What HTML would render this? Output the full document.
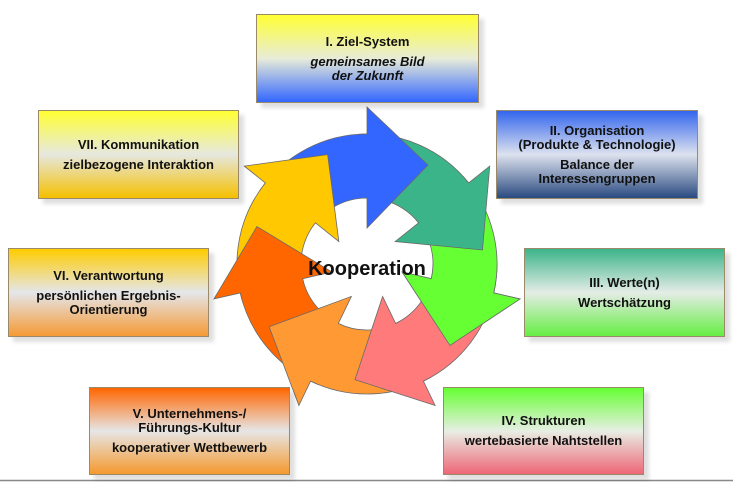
<!DOCTYPE html>
<html><head><meta charset="utf-8"><style>
html,body{margin:0;padding:0;background:#fff;}
body{width:733px;height:483px;position:relative;overflow:hidden;font-family:"Liberation Sans",Arial,sans-serif;}
.b{position:absolute;box-sizing:border-box;border:1px solid #9a8a6a;box-shadow:5px 5px 4px rgba(0,0,0,0.13);display:flex;flex-direction:column;justify-content:center;align-items:center;text-align:center;font-weight:bold;font-size:13px;line-height:14px;color:#111;}
.b .g{height:6px;}
svg{position:absolute;left:0;top:0;}
</style></head><body>
<svg width="733" height="483">
<defs>
<path id="ar" d="M260.5,189.4 A130,130 0 0 1 367,134 L367,107 L428,165 L367,228 L367,198 A66,66 0 0 0 312.9,226.1 Z" stroke="#6a6a6a" stroke-width="0.8"/>
<clipPath id="wg"><polygon points="367,264 600,264 600,300 520,440 495.6,417.2"/></clipPath>
</defs>
<use href="#ar" fill="#66ff33" transform="rotate(102.86 367 264)"/>
<use href="#ar" fill="#3cb48a" transform="rotate(51.43 367 264)"/>
<use href="#ar" fill="#3366ff"/>
<use href="#ar" fill="#ffc800" transform="rotate(-51.43 367 264)"/>
<use href="#ar" fill="#ff6600" transform="rotate(-102.86 367 264)"/>
<use href="#ar" fill="#ff9933" transform="rotate(-154.29 367 264)"/>
<use href="#ar" fill="#ff7b7b" transform="rotate(154.29 367 264)"/>
<g clip-path="url(#wg)"><use href="#ar" fill="#66ff33" transform="rotate(102.86 367 264)"/></g>
<text x="367" y="275" text-anchor="middle" font-family="Liberation Sans, Arial, sans-serif" font-weight="bold" font-size="20" fill="#111">Kooperation</text>
<line x1="0" y1="480.5" x2="733" y2="480.5" stroke="#888" stroke-width="1.5"/>
</svg>

<div class="b" style="left:256px;top:14px;width:223px;height:89px;background:linear-gradient(#ffff33,#e8ecd8 50%,#3366ff);">
<div>I. Ziel-System</div><div class="g"></div><div style="font-style:italic">gemeinsames Bild<br>der Zukunft</div></div>

<div class="b" style="left:496px;top:110px;width:202px;height:89px;background:linear-gradient(#3366ee,#dde2ee 50%,#2a4a80);">
<div>II. Organisation<br>(Produkte &amp; Technologie)</div><div class="g"></div><div>Balance der<br>Interessengruppen</div></div>

<div class="b" style="left:524px;top:248px;width:201px;height:89px;background:linear-gradient(#3cb48a,#e4ece6 50%,#66ee44);">
<div>III. Werte(n)</div><div class="g"></div><div>Wertschätzung</div></div>

<div class="b" style="left:443px;top:387px;width:201px;height:88px;background:linear-gradient(#66ff33,#e8eee4 50%,#ee6677);">
<div>IV. Strukturen</div><div class="g"></div><div>wertebasierte Nahtstellen</div></div>

<div class="b" style="left:89px;top:387px;width:201px;height:88px;background:linear-gradient(#ff6600,#e6e6e6 50%,#f5992f);">
<div>V. Unternehmens-/<br>Führungs-Kultur</div><div class="g"></div><div>kooperativer Wettbewerb</div></div>

<div class="b" style="left:8px;top:248px;width:201px;height:89px;background:linear-gradient(#ffcc00,#e4e6ea 50%,#f59a35);">
<div>VI. Verantwortung</div><div class="g"></div><div>persönlichen Ergebnis-<br>Orientierung</div></div>

<div class="b" style="left:38px;top:110px;width:201px;height:89px;background:linear-gradient(#ffff33,#e6e8e0 50%,#f5c000);">
<div>VII. Kommunikation</div><div class="g"></div><div>zielbezogene Interaktion</div></div>
</body></html>
